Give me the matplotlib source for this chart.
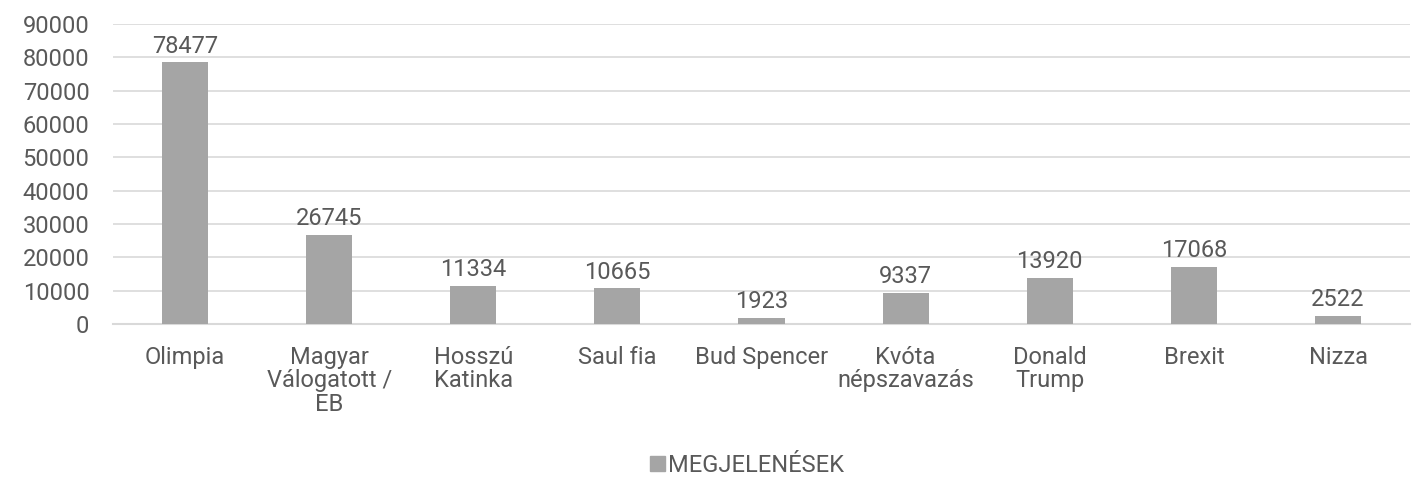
import matplotlib
matplotlib.use("Agg")
import matplotlib.pyplot as plt
from matplotlib.patches import Patch

categories = ["Olimpia", "Magyar\nVálogatott /\nEB", "Hosszú\nKatinka", "Saul fia",
              "Bud Spencer", "Kvóta\nnépszavazás", "Donald\nTrump", "Brexit", "Nizza"]
values = [78477, 26745, 11334, 10665, 1923, 9337, 13920, 17068, 2522]
yticks = [0, 10000, 20000, 30000, 40000, 50000, 60000, 70000, 80000, 90000]
series_name = "MEGJELENÉSEK"

plt.rcParams['font.family'] = ['Roboto', 'DejaVu Sans']
text_color = "#595959"
bar_color = "#A5A5A5"
fs = 17

fig = plt.figure(figsize=(14.18, 4.78), dpi=100)
ax = fig.add_axes([0.0797, 0.3222, 0.9147, 0.6276])
x = range(len(categories))
bars = ax.bar(x, values, width=0.32, color=bar_color, zorder=3)
ax.set_xlim(-0.5, len(categories) - 0.5)
ax.set_ylim(0, 90000)
ax.set_yticks(yticks)
ax.set_yticklabels([str(t) for t in yticks], fontsize=fs, color=text_color)
ax.set_xticks(list(x))
ax.set_xticklabels(categories, fontsize=fs, color=text_color, linespacing=1.05, va="top")
ax.tick_params(axis="both", length=0)
ax.tick_params(axis="x", pad=15.5)
ax.tick_params(axis="y", pad=17)
ax.grid(axis="y", color="#D9D9D9", linewidth=1.2, zorder=0)
for s in ["top", "right", "left"]:
    ax.spines[s].set_visible(False)
ax.spines["bottom"].set_color("#D9D9D9")
ax.spines["bottom"].set_linewidth(1.5)
for xi, v in zip(x, values):
    ax.annotate(str(v), (xi, v), xytext=(0, 3.5), textcoords="offset points",
                ha="center", va="bottom", fontsize=fs, color=text_color)

fig.legend(handles=[Patch(color=bar_color, label=series_name)], loc="center",
           bbox_to_anchor=(0.527, 0.027), frameon=False, fontsize=fs,
           labelcolor=text_color, handlelength=0.6, handleheight=0.6, handletextpad=0.15)
fig.savefig("out.png", dpi=100)
